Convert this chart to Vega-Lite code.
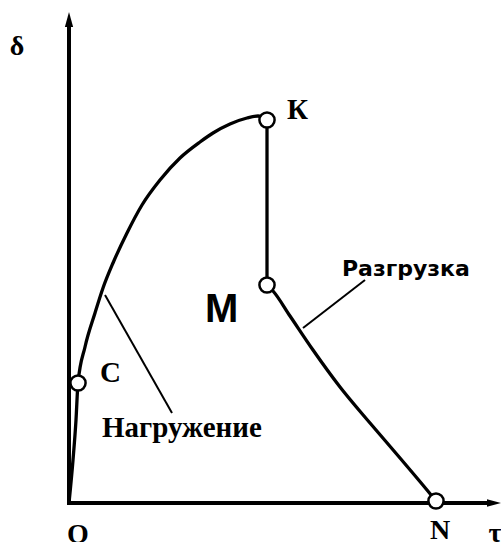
{
  "$schema": "https://vega.github.io/schema/vega-lite/v6.json",
  "width": 501,
  "height": 542,
  "autosize": "none",
  "padding": 0,
  "background": "white",
  "config": {"view": {"stroke": null}},
  "datasets": {
    "curve": [
      {"seg": "load", "i": 0, "x": 0.0, "y": 0.0},
      {"seg": "load", "i": 1, "x": 0.4, "y": 4.3},
      {"seg": "load", "i": 2, "x": 0.7, "y": 8.3},
      {"seg": "load", "i": 3, "x": 0.9, "y": 12.0},
      {"seg": "load", "i": 4, "x": 1.6, "y": 15.6},
      {"seg": "load", "i": 5, "x": 2.6, "y": 19.0},
      {"seg": "load", "i": 6, "x": 3.4, "y": 21.5},
      {"seg": "load", "i": 7, "x": 4.4, "y": 24.0},
      {"seg": "load", "i": 8, "x": 5.8, "y": 27.0},
      {"seg": "load", "i": 9, "x": 7.3, "y": 29.8},
      {"seg": "load", "i": 10, "x": 9.1, "y": 32.3},
      {"seg": "load", "i": 11, "x": 11.1, "y": 34.5},
      {"seg": "load", "i": 12, "x": 13.1, "y": 36.1},
      {"seg": "load", "i": 13, "x": 14.4, "y": 37.0},
      {"seg": "load", "i": 14, "x": 16.1, "y": 37.9},
      {"seg": "load", "i": 15, "x": 17.8, "y": 38.5},
      {"seg": "load", "i": 16, "x": 18.9, "y": 38.7},
      {"seg": "load", "i": 17, "x": 19.8, "y": 38.3},
      {"seg": "drop", "i": 0, "x": 19.8, "y": 38.3},
      {"seg": "drop", "i": 1, "x": 19.8, "y": 21.8},
      {"seg": "unload", "i": 0, "x": 19.8, "y": 21.8},
      {"seg": "unload", "i": 1, "x": 20.4, "y": 21.2},
      {"seg": "unload", "i": 2, "x": 22.1, "y": 18.7},
      {"seg": "unload", "i": 3, "x": 24.4, "y": 15.3},
      {"seg": "unload", "i": 4, "x": 27.1, "y": 11.6},
      {"seg": "unload", "i": 5, "x": 30.1, "y": 8.0},
      {"seg": "unload", "i": 6, "x": 33.1, "y": 4.5},
      {"seg": "unload", "i": 7, "x": 35.8, "y": 1.3},
      {"seg": "unload", "i": 8, "x": 36.7, "y": 0.2}
    ],
    "axes": [
      {"axis": "tau", "x": -0.2, "y": 0, "x2": 42.1, "y2": 0},
      {"axis": "delta", "x": 0, "y": -0.2, "x2": 0, "y2": 47.9}
    ],
    "arrows": [
      {"dir": "right", "x": 42.5, "y": 0},
      {"dir": "up", "x": 0, "y": 48.35}
    ],
    "leaders": [
      {"label": "Нагружение", "x": 3.6, "y": 20.8, "x2": 10.3, "y2": 9.0},
      {"label": "Разгрузка", "x": 23.4, "y": 17.5, "x2": 29.6, "y2": 22.3}
    ],
    "points": [
      {"name": "C", "x": 0.9, "y": 12.0},
      {"name": "K", "x": 19.8, "y": 38.3},
      {"name": "M", "x": 19.8, "y": 21.8},
      {"name": "N", "x": 36.7, "y": 0.2}
    ],
    "serifLeft": [
      {"text": "К", "x": 21.8, "y": 38.4},
      {"text": "С", "x": 3.1, "y": 12.1},
      {"text": "Нагружение", "x": 3.3, "y": 6.6}
    ],
    "serifCenter": [
      {"text": "δ", "x": -5.2, "y": 44.8},
      {"text": "O", "x": 0.9, "y": -4.0},
      {"text": "N", "x": 37.1, "y": -3.6},
      {"text": "τ", "x": 42.6, "y": -3.9}
    ],
    "sansBig": [
      {"text": "М", "x": 13.6, "y": 18.1}
    ],
    "sans": [
      {"text": "Разгрузка", "x": 27.3, "y": 22.7}
    ]
  },
  "encoding": {
    "x": {"field": "x", "type": "quantitative", "axis": null,
          "scale": {"domain": [-6.9, 43.2], "nice": false, "zero": false}},
    "y": {"field": "y", "type": "quantitative", "axis": null,
          "scale": {"domain": [-3.9, 50.3], "nice": false, "zero": false}}
  },
  "layer": [
    {
      "data": {"name": "axes"},
      "mark": {"type": "rule", "color": "black", "strokeWidth": 4},
      "encoding": {
        "x2": {"field": "x2"},
        "y2": {"field": "y2"}
      }
    },
    {
      "data": {"name": "arrows"},
      "transform": [{"filter": "datum.dir === 'right'"}],
      "mark": {"type": "point", "shape": "M1,0L-1,0.55L-1,-0.55Z", "filled": true,
               "color": "black", "opacity": 1, "size": 196}
    },
    {
      "data": {"name": "arrows"},
      "transform": [{"filter": "datum.dir === 'up'"}],
      "mark": {"type": "point", "shape": "M0,-1L0.55,1L-0.55,1Z", "filled": true,
               "color": "black", "opacity": 1, "size": 225}
    },
    {
      "data": {"name": "leaders"},
      "mark": {"type": "rule", "color": "black", "strokeWidth": 2},
      "encoding": {
        "x2": {"field": "x2"},
        "y2": {"field": "y2"}
      }
    },
    {
      "data": {"name": "curve"},
      "mark": {"type": "line", "color": "black", "strokeWidth": 3.3, "interpolate": "monotone"},
      "encoding": {
        "detail": {"field": "seg"},
        "order": {"field": "i", "type": "quantitative"}
      }
    },
    {
      "data": {"name": "points"},
      "mark": {"type": "point", "shape": "circle", "filled": true, "fill": "white",
               "stroke": "black", "strokeWidth": 2.5, "opacity": 1, "size": 230}
    },
    {
      "data": {"name": "serifLeft"},
      "mark": {"type": "text", "font": "Liberation Serif", "fontWeight": "bold",
               "fontSize": 29, "align": "left", "baseline": "alphabetic", "color": "black"},
      "encoding": {"text": {"field": "text"}}
    },
    {
      "data": {"name": "serifCenter"},
      "mark": {"type": "text", "font": "Liberation Serif", "fontWeight": "bold",
               "fontSize": 28, "align": "center", "baseline": "alphabetic", "color": "black"},
      "encoding": {"text": {"field": "text"}}
    },
    {
      "data": {"name": "sansBig"},
      "mark": {"type": "text", "font": "Liberation Sans", "fontWeight": "bold",
               "fontSize": 40, "align": "left", "baseline": "alphabetic", "color": "black"},
      "encoding": {"text": {"field": "text"}}
    },
    {
      "data": {"name": "sans"},
      "mark": {"type": "text", "font": "DejaVu Sans", "fontWeight": "bold",
               "fontSize": 22, "align": "left", "baseline": "alphabetic", "color": "black"},
      "encoding": {"text": {"field": "text"}}
    }
  ]
}
